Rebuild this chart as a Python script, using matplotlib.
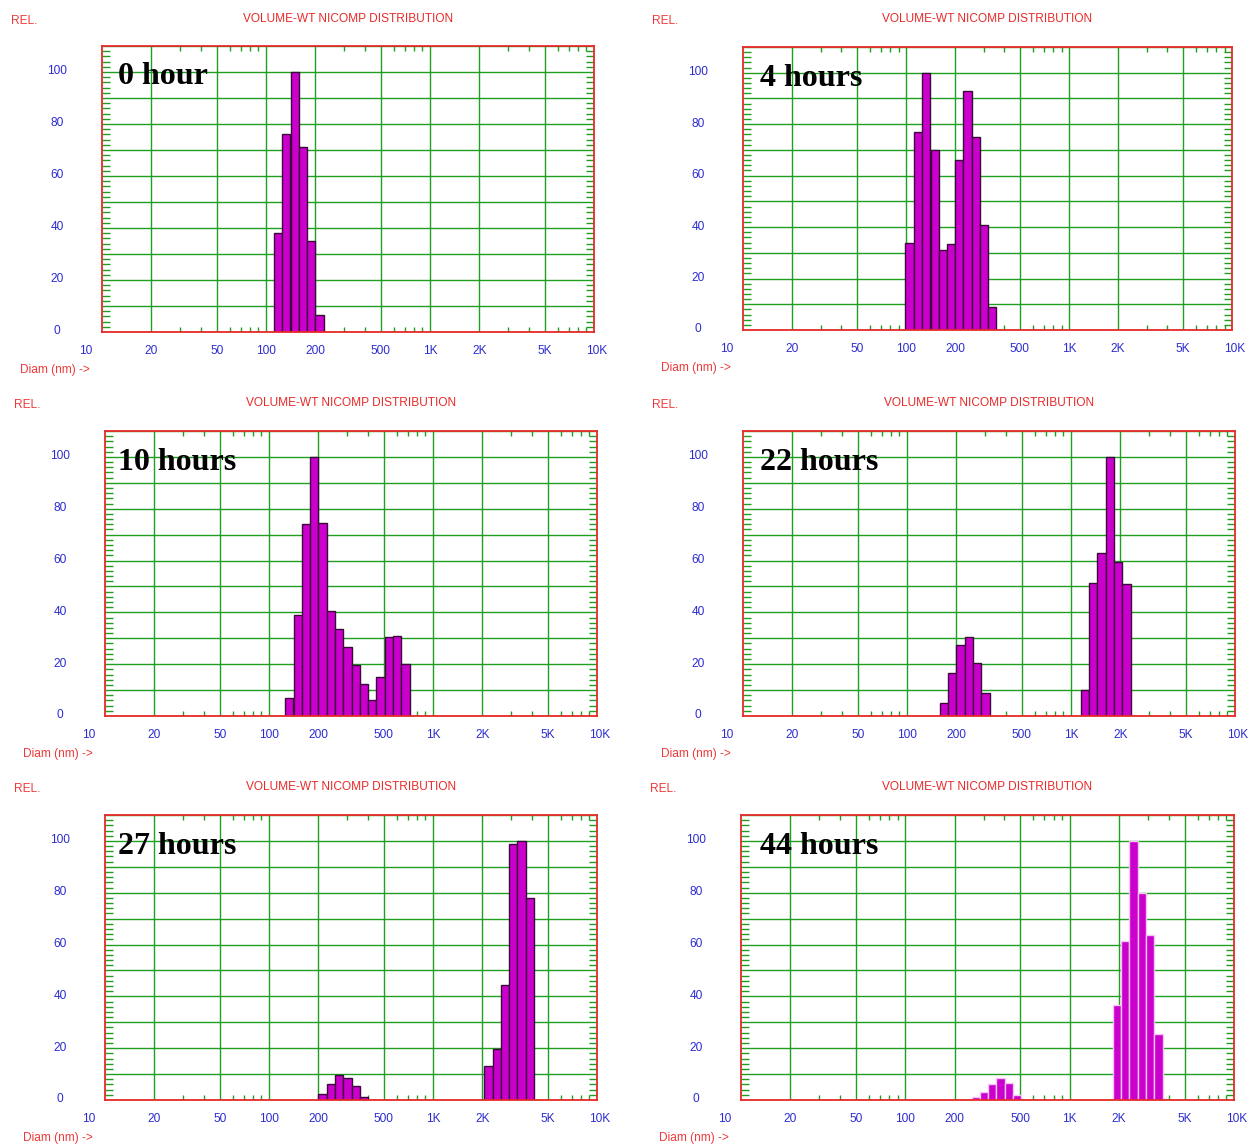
import matplotlib
matplotlib.use("Agg")
import matplotlib.pyplot as plt
import matplotlib.transforms as mtransforms
import numpy as np

# ---- data: NICOMP volume-weighted size distributions ----
labels = ["0 hour", "4 hours", "10 hours", "22 hours", "27 hours", "44 hours"]

diam_0h = [118, 133, 150, 168, 189, 212]
rel_0h = [38, 76, 100, 71, 35, 6.5]

diam_4h = [105, 118, 133, 150, 168, 189, 212, 238, 268, 301, 338]
rel_4h = [34, 77, 100, 70, 31, 33.5, 66, 93, 75, 41, 9]

diam_10h = [133, 150, 168, 189, 212, 238, 268, 301, 338, 380, 426, 479, 538, 605, 679]
rel_10h = [7, 39, 74, 100, 74.5, 40.5, 33.5, 26.5, 19.5, 12.5, 6, 15, 30.5, 31, 20]

diam_22h = [168, 189, 212, 238, 268, 301, 1216, 1366, 1535, 1724, 1937, 2177]
rel_22h = [5, 16.5, 27.5, 30.5, 20.5, 9, 10, 51.5, 63, 100, 59.5, 51]

diam_27h = [212, 238, 268, 301, 338, 380, 2177, 2445, 2747, 3087, 3468, 3896]
rel_27h = [2.5, 6, 9.5, 8.5, 5.5, 1, 13, 19.5, 44.5, 99, 100, 78]

diam_44h = [268, 301, 338, 380, 426, 479, 1937, 2177, 2445, 2747, 3087, 3468]
rel_44h = [1, 3, 6, 8.5, 6.5, 2, 36.5, 61.5, 100, 80, 63.5, 25.5]

x_tick_values = [10, 20, 50, 100, 200, 500, 1000, 2000, 5000, 10000]
x_tick_labels = ["10", "20", "50", "100", "200", "500", "1K", "2K", "5K", "10K"]
y_tick_values = [0, 20, 40, 60, 80, 100]

BIN_RATIO = 1.1235  # geometric channel width of the NICOMP histogram

# ---- layout (pixels) ----
W, H = 1249, 1146
DPI = 100
# left, right, top, bottom of each plot box
boxes = [
    (102, 594, 46, 332),
    (743, 1232, 47, 330),
    (105, 597, 431, 716),
    (743, 1235, 431, 716),
    (105, 597, 815, 1100),
    (741, 1234, 815, 1100),
]
# left edge of the time label inside each box
label_x = [118, 760, 118, 760, 118, 760]
series = [
    (diam_0h, rel_0h), (diam_4h, rel_4h), (diam_10h, rel_10h),
    (diam_22h, rel_22h), (diam_27h, rel_27h), (diam_44h, rel_44h),
]
edge_colors = ["#3a0a3a"] * 5 + ["#f3c6f3"]

RED = "#e82a2a"
RED_LIGHT = "#ee3a3a"
BLUE = "#2c2cd0"
GREEN = "#1f9f1f"
MAGENTA = "#cc00cc"

SANS = "Liberation Sans"
SERIF = "Liberation Serif"

fig = plt.figure(figsize=(W / DPI, H / DPI), dpi=DPI)
fig.patch.set_facecolor("white")

x_grid = [20, 50, 100, 200, 500, 1000, 2000, 5000]
x_minor = [m * 10 ** e for e in (1, 2, 3) for m in (3, 4, 6, 7, 8, 9)]

for (l, r, t, b), (diam, rel), name, ec, lx in zip(boxes, series, labels,
                                                    edge_colors, label_x):
    ax = fig.add_axes([l / W, 1 - b / H, (r - l) / W, (b - t) / H])
    ax.set_xscale("log")
    ax.set_xlim(10, 10000)
    ax.set_ylim(0, 110)

    # histogram channels
    d = np.asarray(diam, dtype=float)
    lo = d / np.sqrt(BIN_RATIO)
    hi = d * np.sqrt(BIN_RATIO)
    ax.bar(lo, rel, width=hi - lo, align="edge", color=MAGENTA,
           edgecolor=ec, linewidth=1.0, zorder=3)

    # grid
    ax.set_xticks(x_grid)
    ax.set_xticks(x_minor, minor=True)
    ax.set_yticks(np.arange(0, 111, 10))
    ax.set_yticks(np.arange(0, 111, 2), minor=True)
    ax.grid(True, which="major", color=GREEN, linewidth=1.0, zorder=1)
    ax.set_axisbelow(True)
    ax.tick_params(which="major", length=0, labelbottom=False, labelleft=False)
    ax.tick_params(axis="x", which="minor", direction="in", length=3.8,
                   width=1.0, color=GREEN, top=True, bottom=True,
                   labelbottom=False)
    ax.tick_params(axis="y", which="minor", direction="in", length=5.8,
                   width=1.0, color=GREEN, left=True, right=True,
                   labelleft=False)
    for sp in ax.spines.values():
        sp.set_color(RED)
        sp.set_linewidth(1.3)
        sp.set_zorder(4)

    # x tick labels
    xb = mtransforms.blended_transform_factory(ax.transData, ax.transAxes)
    for v, s in zip(x_tick_values, x_tick_labels):
        dx = -16 if v == 10 else (3 if v == 10000 else 0)
        tr = mtransforms.offset_copy(xb, fig=fig, x=dx, y=-18.5, units="dots")
        ax.text(v, 0, s, transform=tr, ha="center", va="center",
                fontsize=8.6, color=BLUE, family=SANS, clip_on=False)

    # y tick labels
    yb = mtransforms.blended_transform_factory(ax.transAxes, ax.transData)
    for v in y_tick_values:
        tr = mtransforms.offset_copy(yb, fig=fig, x=-45, y=0.5, units="dots")
        ax.text(0, v, str(v), transform=tr, ha="center", va="center",
                fontsize=8.6, color=BLUE, family=SANS, clip_on=False)

    # sample time label
    tr = mtransforms.offset_copy(ax.transAxes, fig=fig, x=lx - l, y=-38.5,
                                 units="dots")
    ax.text(0, 1, name, transform=tr, ha="left", va="baseline",
            fontsize=23, fontweight="bold", family=SERIF, color="black",
            zorder=5)

    # headers and axis captions
    fig.text((l + r) / 2 / W, 1 - (t - 27.5) / H, "VOLUME-WT NICOMP DISTRIBUTION",
             ha="center", va="center", fontsize=8.6, color=RED, family=SANS)
    fig.text((l - 78) / W, 1 - (t - 25.5) / H, "REL.", ha="center",
             va="center", fontsize=8.6, color=RED_LIGHT, family=SANS)
    fig.text((l - 82) / W, 1 - (b + 38.5) / H, "Diam (nm) ->", ha="left",
             va="center", fontsize=8.6, color=RED_LIGHT, family=SANS)

fig.savefig("out.png", dpi=DPI, facecolor="white")
